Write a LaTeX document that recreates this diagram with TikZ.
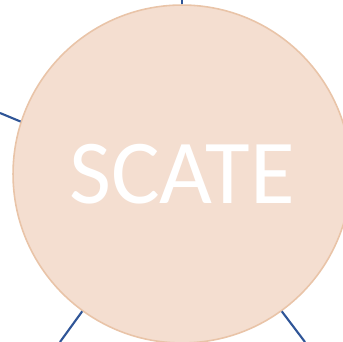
\documentclass[tikz,border=0pt]{standalone}
\usepackage{fontspec}
\setmainfont{Carlito}
\usepackage{xcolor}
\definecolor{scpeach}{RGB}{244,222,208}
\definecolor{scpeachdark}{RGB}{233,196,168}
\definecolor{scblue}{RGB}{47,85,151}
\usetikzlibrary{positioning}

\begin{document}
\begin{tikzpicture}[x=0.02cm, y=0.02cm,
    hub/.style={circle, draw=scpeachdark, fill=scpeach, line width=0.9pt,
      minimum size=6.76cm, inner sep=0pt, text=white,
      font=\fontsize{52}{52}\selectfont},
    spoke/.style={scblue, line width=1.2pt}]
\useasboundingbox (0,0) rectangle (343,342);

% --- Links to the outside (drawn first, circle on top) ---
\coordinate (outtop) at (182,342);
\coordinate (outleft) at (0,229);
\coordinate (outbl) at (60,0);
\coordinate (outbr) at (305,0);

% --- Central circle ---
\node[hub] (scate) at (182,168) {SCATE};

\draw[spoke] (scate.90) -- (outtop);
\draw[spoke] (scate.162) -- (outleft);
\draw[spoke] (scate.234) -- (outbl);
\draw[spoke] (scate.306) -- (outbr);

\end{tikzpicture}
\end{document}
